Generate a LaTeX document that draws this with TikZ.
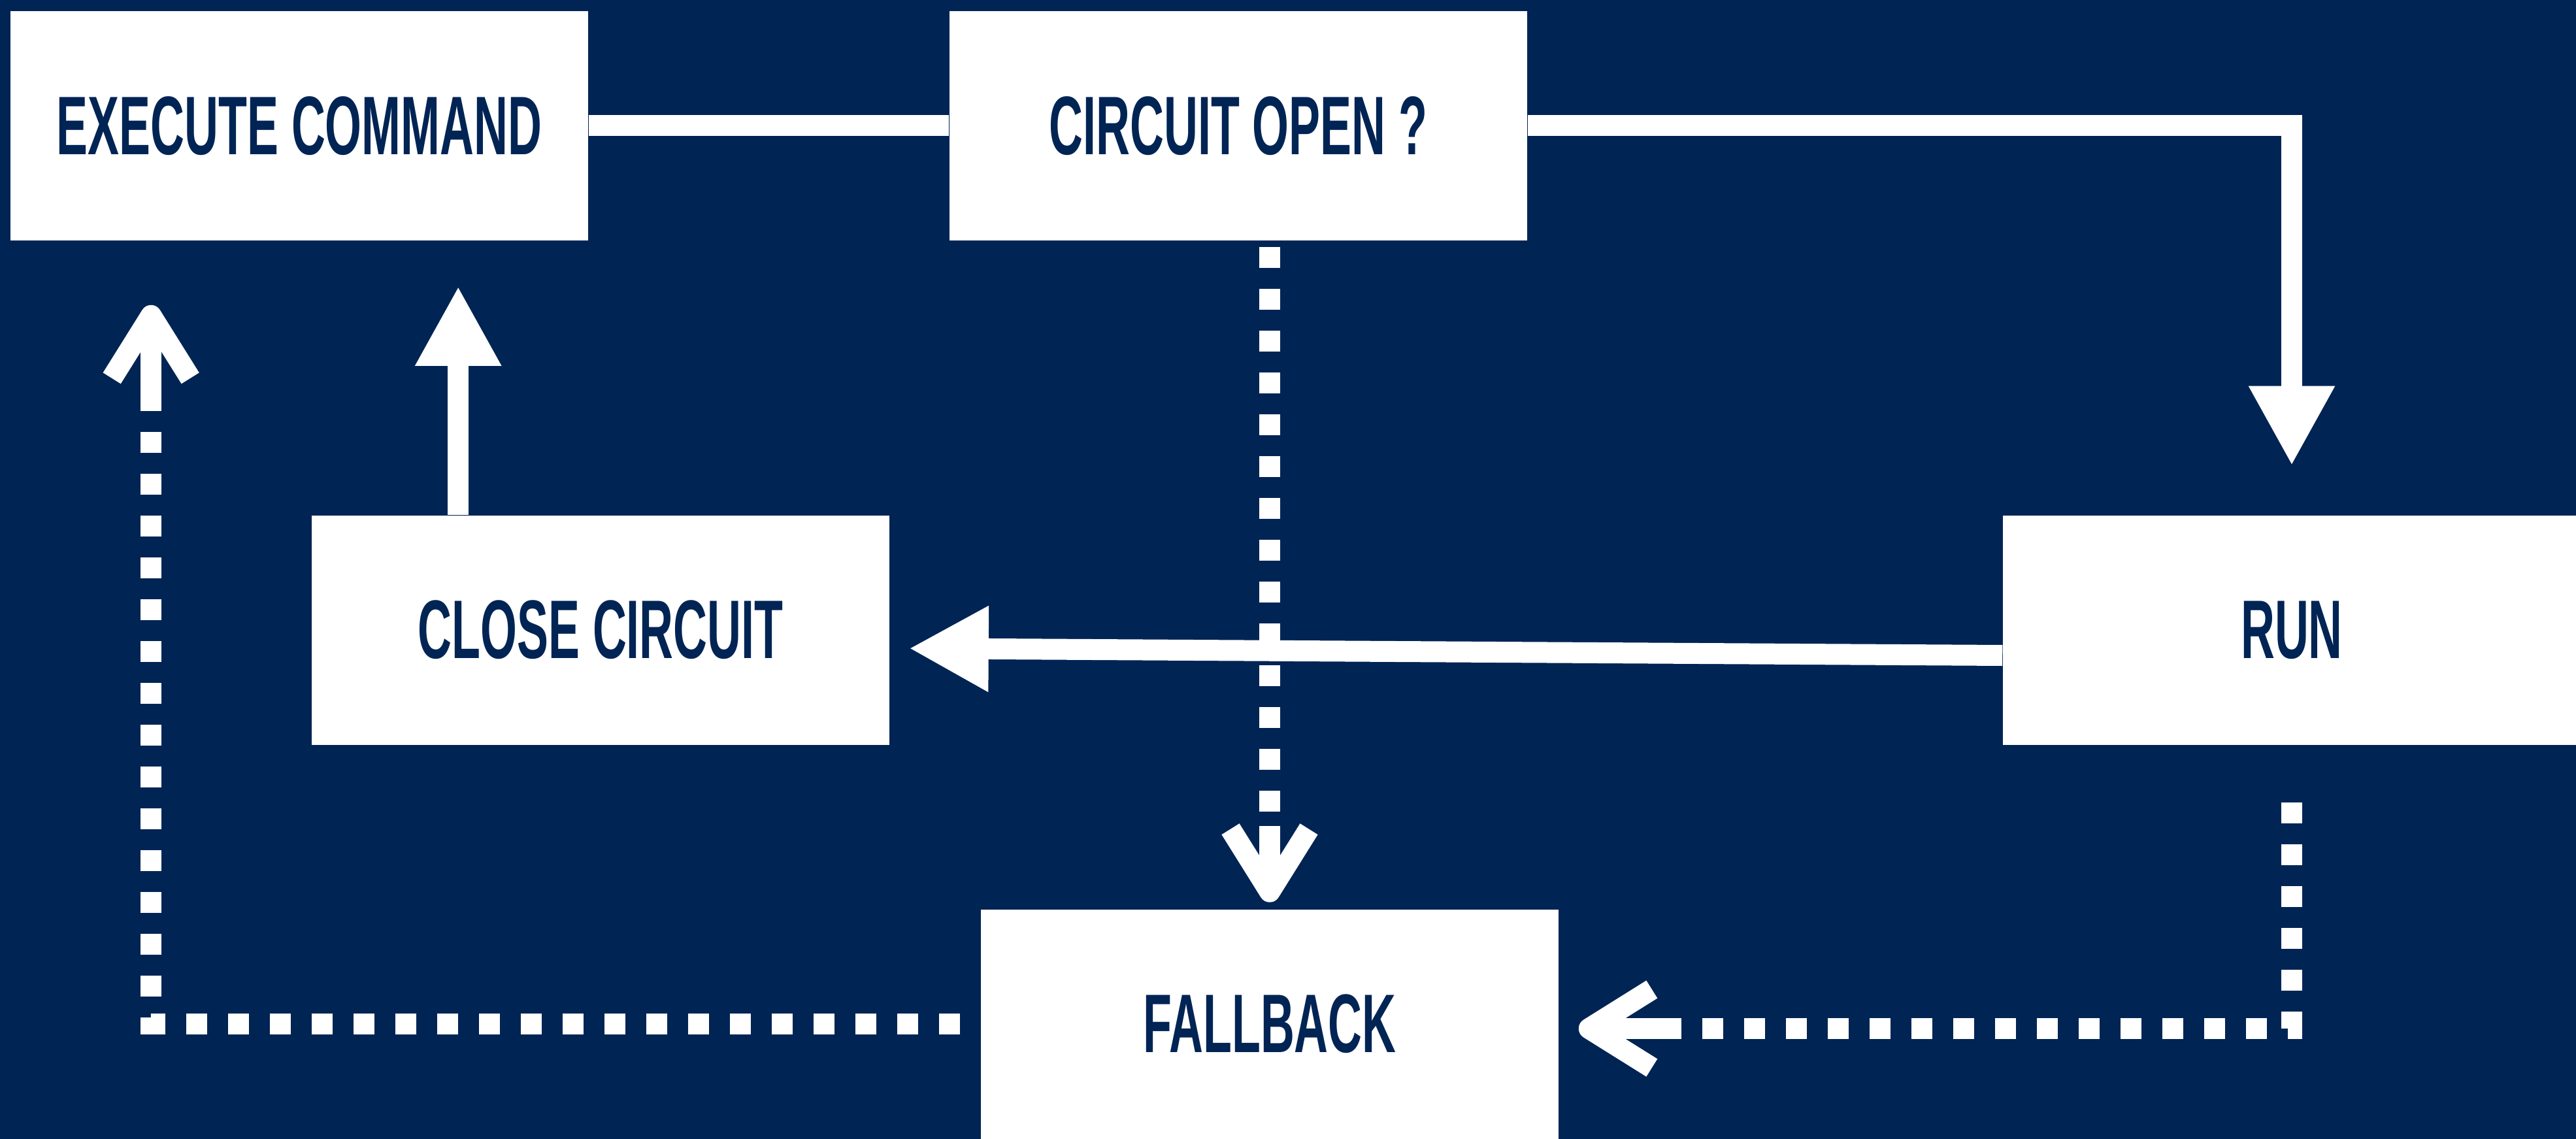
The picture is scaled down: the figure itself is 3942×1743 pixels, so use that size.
\documentclass[tikz,border=0pt]{standalone}
\usepackage{fontspec}
\newfontfamily\boxfont[FakeStretch=0.565]{Liberation Sans}
\usetikzlibrary{arrows.meta,calc,positioning}
\definecolor{bgnavy}{RGB}{0,36,84}
\tikzset{
        % Boxes
        node_box/.style={rectangle, fill=white, text=bgnavy, inner sep=0pt,
            minimum width=221pt, minimum height=87.75pt,
            font=\boxfont\bfseries\fontsize{31.8pt}{36pt}\selectfont},
        % Plain line
        link_plain/.style={draw=white, line width=8pt},
        % Solid links
        link_solid/.style={link_plain, line join=miter, -{Triangle[length=30.5pt,width=30.75pt]}},
        % Dotted links
        link_dotted/.style={link_plain, line join=miter, dash pattern=on 8pt off 8pt},
        % Head of a dotted link
        link_tip/.style={link_plain, -{Straight Barb[length=24pt,width=30pt,line join=round]}}
}
\begin{document}
\begin{tikzpicture}[x=0.25pt, y=-0.25pt]
    \fill[bgnavy] (0,0) rectangle (3942,1743);
    \useasboundingbox (0,0) rectangle (3942,1743);
    % Boxes
    \node[node_box] (exec) at (458,192.5) {EXECUTE COMMAND};
    \node[node_box] (circ) at (1895,192.5) {CIRCUIT OPEN ?};
    \node[node_box] (close) at (919,964) {CLOSE CIRCUIT};
    \node[node_box] (run) at (3507,964) {RUN};
    \node[node_box] (fall) at (1943,1567) {FALLBACK};
    % Solid links
    \draw[link_plain] (exec.east) -- (circ.west);
    \draw[link_solid, shorten >=18.75pt] (circ.east) -| (run.north);
    \draw[link_solid, shorten >=7.25pt] ($(run.west)+(0,39)$) -- ($(close.east)+(0,28)$);
    \coordinate (closeup) at ($(close.north west)+(225,0)$);
    \draw[link_solid, shorten >=17.25pt] (closeup) -- (closeup |- exec.south);
    % Dotted links
    \coordinate (circdown) at (circ.south -| fall.north);
    \coordinate (fallstub) at ($(fall.north)+(0,-126.5)$);
    \draw[link_dotted, shorten <=2.25pt] (circdown) -- (fallstub);
    \draw[link_tip, shorten >=2.5pt] (fallstub) -- (fall.north);
    \coordinate (fallE) at ($(fall.east)+(0,7)$);
    \coordinate (fallside) at ($(fall.east)+(178,7)$);
    \draw[link_dotted, shorten <=22pt] (run.south) |- (fallside);
    \draw[link_tip, shorten >=7.5pt] (fallside) -- (fallE);
    \coordinate (execup) at ($(exec.south west)+(216,0)$);
    \coordinate (execstub) at ($(exec.south west)+(216,232.5)$);
    \draw[link_dotted, shorten <=7.75pt] (fall.west) -| (execstub);
    \draw[link_tip, shorten >=24.5pt] (execstub) -- (execup);
\end{tikzpicture}
\end{document}
